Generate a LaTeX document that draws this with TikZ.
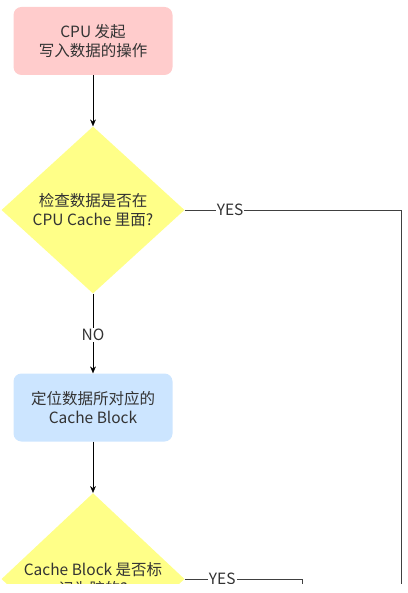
\documentclass[tikz,border=0pt]{standalone}
\usepackage{fontspec}
\setmainfont{Noto Sans CJK SC}
\usepackage{tikz}
\usetikzlibrary{arrows.meta,shapes.geometric}
\definecolor{startpink}{HTML}{FFCCCC}
\definecolor{stepblue}{HTML}{CCE5FF}
\definecolor{askyellow}{HTML}{FFFF88}
\definecolor{inkgray}{HTML}{333333}

\begin{document}
\begin{tikzpicture}[
  x=1pt, y=-1pt,
  every node/.style={font=\fontsize{15.5}{19}\selectfont, text=inkgray},
  process/.style={rectangle, rounded corners=8pt, minimum width=159pt, minimum height=68pt, align=center, inner sep=2pt},
  decision/.style={diamond, fill=askyellow, minimum width=183pt, minimum height=167pt, align=center, inner sep=0pt},
  lbl/.style={fill=white, inner sep=1pt},
  arr/.style={-{Stealth[length=2.4mm, width=2mm]}, thin, black},
  link/.style={thin, black!75}
]
  \useasboundingbox (0,0) rectangle (407,593);
  \clip (0,0) rectangle (407,583);
  \node[process, fill=startpink] (start) at (93,41) {CPU 发起\\写入数据的操作};
  \node[decision] (incache) at (93,210) {检查数据是否在\\CPU Cache 里面?};
  \node[process, fill=stepblue] (locate) at (93,407.5) {定位数据所对应的\\Cache Block};
  \node[decision] (isdirty) at (93,579) {Cache Block 是否标\\记为脏的?};
  \coordinate (hitcorner) at (401,210);
  \coordinate (hitend) at (401,600);
  \coordinate (dirtycorner) at (302,579);
  \coordinate (dirtyend) at (302,600);
  \draw[arr] (start) -- (incache);
  \draw[arr] (incache) -- node[lbl, pos=0.52] {NO} (locate);
  \draw[arr] (locate) -- (isdirty);
  \draw[link] (incache.east) -- node[lbl, pos=0.21] {YES} (hitcorner) -- (hitend);
  \draw[link] (isdirty.east) -- node[lbl, pos=0.32] {YES} (dirtycorner) -- (dirtyend);
\end{tikzpicture}
\end{document}
